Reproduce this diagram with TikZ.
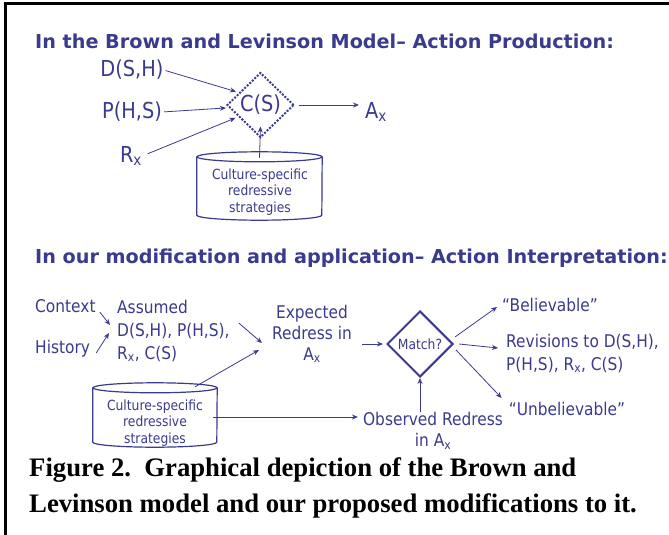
\documentclass[tikz,border=0pt]{standalone}
\usepackage{fontspec}
\setmainfont{DejaVu Sans}
\newfontfamily\labfont{DejaVu Sans}[FakeStretch=0.88]
\newfontfamily\titfont{DejaVu Sans}
\newfontfamily\capfont{Liberation Serif}
\usetikzlibrary{shapes.geometric,arrows.meta,calc}
\definecolor{ink}{RGB}{58,58,142}
\newcommand\sbx{\textsubscript{x}}
\begin{document}
\begin{tikzpicture}[x=1pt,y=1pt,
  lab/.style={text=ink, font=\labfont\fontsize{17.5}{21}\selectfont, inner sep=0pt, align=center},
  big/.style={text=ink, font=\labfont\fontsize{22}{26}\selectfont, inner sep=0pt},
  small/.style={text=ink, font=\labfont\fontsize{14}{16.5}\selectfont, inner sep=0pt, align=center},
  title/.style={text=ink, font=\titfont\bfseries\fontsize{19.2}{23}\selectfont, anchor=west, inner sep=0pt},
  arr/.style={draw=ink, line width=0.8pt, -{Stealth[length=6pt,width=5pt]}},
  cylline/.style={draw=ink, line width=1.2pt},
]
\useasboundingbox (0,0) rectangle (669,-535);
\draw[line width=3pt] (5,-2.5) -- (5,-535);
\draw[line width=3pt] (3.5,-4) -- (669,-4);

% titles
\node[title] (t1) at (35,-41) {In the Brown and Levinson Model– Action Production:};
\node[title] (t2) at (35,-258) {In our modification and application– Action Interpretation:};

% ---- top diagram
\node[big] (dsh) at (132,-70) {D(S,H)};
\node[big] (phs) at (132,-112) {P(H,S)};
\node[big] (rx) at (131,-156) {R\sbx};
\node[diamond, draw=ink, line width=2pt, dash pattern=on 2pt off 1.5pt,
      minimum width=67pt, minimum height=65pt, big] (cs) at (260.5,-105) {C(S)};
\node[big, anchor=base west] (ax) at (365,-118) {A\sbx};

\draw[arr, shorten <=2pt, shorten >=3pt] (dsh.east) -- (cs.150);
\draw[arr, shorten <=2pt, shorten >=3pt] (phs.east) -- (cs.185);
\draw[arr, shorten <=6pt, shorten >=3pt] (rx.east) -- (cs.208);
\draw[arr, shorten <=4pt, shorten >=6pt] (cs.east) -- (cs.east -| ax.west);

\node[minimum width=125pt, minimum height=68pt, inner sep=0pt] (cyl1) at (259.5,-186) {};
\draw[cylline] ($(cyl1.north)+(0,-5)$) ellipse [x radius=62.5, y radius=5];
\draw[cylline] ($(cyl1.north west)+(0,-5)$) -- ($(cyl1.south west)+(0,5)$)
   arc[start angle=180, end angle=360, x radius=62.5, y radius=5] -- ($(cyl1.north east)+(0,-5)$);
\node[small] (cyl1t) at (260,-192) {Culture-specific\\redressive\\strategies};
\draw[arr] ($(cyl1.north)+(0,-6)$) -- ($(cs.south)+(0,12)$);

% ---- bottom diagram
\node[lab, anchor=west] (ctx) at (35,-306) {Context};
\node[lab, anchor=west] (hist) at (35,-349) {History};
\node[lab, align=left, anchor=west, font=\labfont\fontsize{17.5}{23}\selectfont] (ass) at (117,-331) {Assumed\\D(S,H), P(H,S),\\R\sbx, C(S)};
\draw[arr] ($(ctx.east)+(4,-6)$) -- ($(ass.west)+(-7,6)$);
\draw[arr] ($(hist.east)+(6,-4)$) -- ($(ass.west)+(-8,-2)$);

\node[lab] (exp) at (312,-334) {Expected\\Redress in\\A\sbx};
\draw[arr] ($(ass.east)+(9,8)$) -- ($(exp.west)+(-10,-9)$);

\node[minimum width=124pt, minimum height=64pt, inner sep=0pt] (cyl2) at (155,-415) {};
\draw[cylline] ($(cyl2.north)+(0,-5)$) ellipse [x radius=62, y radius=5];
\draw[cylline] ($(cyl2.north west)+(0,-5)$) -- ($(cyl2.south west)+(0,5)$)
   arc[start angle=180, end angle=360, x radius=62, y radius=5] -- ($(cyl2.north east)+(0,-5)$);
\node[small] (cyl2t) at (155,-423) {Culture-specific\\redressive\\strategies};
\draw[arr] ($(cyl2.north)+(40,-4)$) -- ($(exp.west)+(-13,-16)$);

\node[diamond, draw=ink, line width=2pt, minimum width=66pt, minimum height=66pt,
      inner sep=0pt, small] (match) at (420,-344) {Match?};
\draw[arr, shorten <=10pt, shorten >=3pt] (exp.east |- match.west) -- (match.west);

\node[lab, align=center] (obs) at (433,-431) {Observed Redress\\in A\sbx};
\draw[arr] ($(cyl2.east)+(-4,-2)$) -- ($(obs.west)+(-5,14)$);
\draw[arr] (match.south |- obs.north) -- (match.south);

\node[lab] (bel) at (550,-305) {“Believable”};
\node[lab, align=left, anchor=west, font=\labfont\fontsize{17.5}{23}\selectfont] (rev) at (506,-353.5) {Revisions to D(S,H),\\P(H,S), R\sbx, C(S)};
\node[lab] (unb) at (567,-409) {“Unbelievable”};

\draw[arr] ($(match.east)+(1,7)$) -- ($(bel.west)+(-5,-2)$);
\draw[arr] ($(match.east)+(5,0)$) -- ($(rev.west)+(-8,5.5)$);
\draw[arr] ($(match.east)+(2,-6)$) -- ($(unb.west)+(-7,11)$);

% caption
\node[anchor=west, font=\capfont\bfseries\fontsize{26.7}{36}\selectfont, align=left, inner sep=0pt] (cap) at (29,-488)
  {Figure 2.\hspace{0.5em}Graphical depiction of the Brown and\\Levinson model and our proposed modifications to it.};
\end{tikzpicture}
\end{document}
